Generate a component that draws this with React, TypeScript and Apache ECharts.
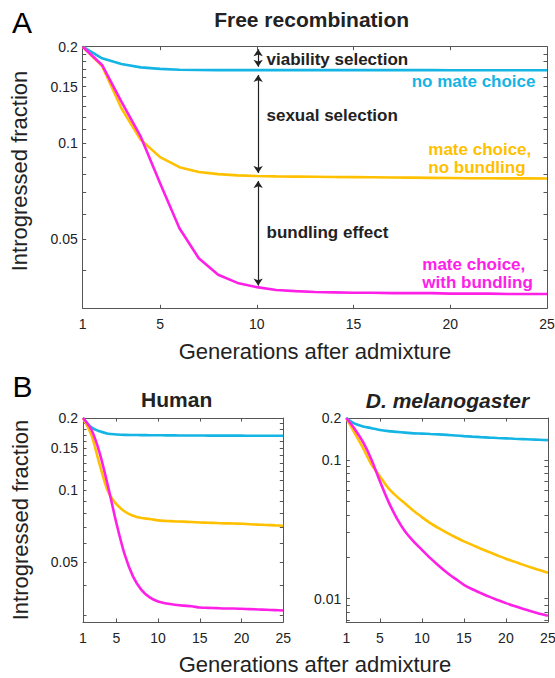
import React, { useEffect, useRef } from "react";
import * as echarts from "echarts";

// ---------- data ----------
const GENERATIONS = [1, 2, 3, 4, 5, 6, 7, 8, 9, 10, 11, 12, 13, 14, 15, 16, 17, 18, 19, 20, 21, 22, 23, 24, 25];
const X_TICKS = [1, 5, 10, 15, 20, 25];

// Panel A: free recombination
const A_NO_CHOICE = [0.2, 0.184, 0.1766, 0.1724, 0.1705, 0.1695, 0.1692, 0.169, 0.169, 0.169, 0.169, 0.169, 0.169, 0.169, 0.169, 0.169, 0.169, 0.169, 0.169, 0.1689, 0.1689, 0.1689, 0.1688, 0.1688, 0.1688];
const A_NO_BUNDLING = [0.2, 0.174, 0.1284, 0.1023, 0.0903, 0.084, 0.0811, 0.0799, 0.0792, 0.0788, 0.0786, 0.0785, 0.0784, 0.0783, 0.0782, 0.0781, 0.078, 0.0779, 0.0778, 0.0777, 0.0776, 0.0776, 0.0775, 0.0775, 0.0774];
const A_WITH_BUNDLING = [0.2, 0.1754, 0.1347, 0.1046, 0.0748, 0.0541, 0.0436, 0.0387, 0.0365, 0.0354, 0.0347, 0.0344, 0.0342, 0.0341, 0.034, 0.034, 0.0339, 0.0339, 0.0339, 0.0338, 0.0338, 0.0338, 0.0337, 0.0337, 0.0337];

// Panel B: human
const H_NO_CHOICE = [0.2, 0.183, 0.176, 0.172, 0.1708, 0.17, 0.1698, 0.1697, 0.1695, 0.1694, 0.1693, 0.1692, 0.1691, 0.169, 0.169, 0.1689, 0.1689, 0.1688, 0.1688, 0.1688, 0.1687, 0.1687, 0.1687, 0.1686, 0.1686];
const H_NO_BUNDLING = [0.2, 0.17, 0.1276, 0.0986, 0.0873, 0.0814, 0.0781, 0.0764, 0.0757, 0.0747, 0.0743, 0.074, 0.0738, 0.0735, 0.0732, 0.073, 0.0728, 0.0726, 0.0725, 0.0723, 0.072, 0.0717, 0.0715, 0.0712, 0.0709];
const H_WITH_BUNDLING = [0.2, 0.179, 0.1428, 0.1036, 0.0728, 0.0537, 0.0435, 0.0383, 0.0356, 0.0342, 0.0336, 0.0332, 0.0329, 0.0327, 0.0323, 0.0322, 0.0321, 0.032, 0.032, 0.0319, 0.0318, 0.0317, 0.0316, 0.0315, 0.0314];

// Panel B: D. melanogaster
const D_NO_CHOICE = [0.2, 0.182, 0.174, 0.169, 0.164, 0.161, 0.159, 0.157, 0.155, 0.1544, 0.1534, 0.1524, 0.1512, 0.1497, 0.1482, 0.1469, 0.1457, 0.1446, 0.1436, 0.1427, 0.1418, 0.141, 0.1402, 0.1394, 0.1386];
const D_NO_BUNDLING = [0.2, 0.156, 0.1216, 0.0923, 0.076, 0.0626, 0.0546, 0.0484, 0.043, 0.0387, 0.035, 0.0322, 0.0298, 0.0277, 0.0259, 0.0244, 0.0229, 0.0217, 0.0205, 0.0194, 0.0185, 0.0176, 0.0168, 0.0161, 0.0154];
const D_WITH_BUNDLING = [0.2, 0.167, 0.134, 0.1003, 0.07, 0.0502, 0.0381, 0.0305, 0.0259, 0.0225, 0.0196, 0.0173, 0.0154, 0.0139, 0.0126, 0.0117, 0.011, 0.01035, 0.0098, 0.0093, 0.00885, 0.00846, 0.00812, 0.00781, 0.00753];

// axis ticks
const A_Y_LABELS = [0.05, 0.1, 0.15, 0.2];
const A_Y_TICKS = [0.04, 0.05, 0.06, 0.07, 0.08, 0.09, 0.1, 0.11, 0.12, 0.13, 0.14, 0.15, 0.16, 0.17, 0.18, 0.19, 0.2];
const H_Y_LABELS = [0.05, 0.1, 0.15, 0.2];
const H_Y_TICKS = [0.03, 0.04, 0.05, 0.06, 0.07, 0.08, 0.09, 0.1, 0.11, 0.12, 0.13, 0.14, 0.15, 0.16, 0.17, 0.18, 0.19, 0.2];
const D_Y_LABELS = [0.01, 0.1, 0.2];
const D_Y_TICKS = [0.007, 0.008, 0.009, 0.01, 0.02, 0.03, 0.04, 0.05, 0.06, 0.07, 0.08, 0.09, 0.1, 0.2];

// y ranges
const A_Y_RANGE = [0.0304, 0.20005];
const H_Y_RANGE = [0.0281, 0.20005];
const D_Y_RANGE = [0.0068, 0.20005];

// annotation arrows in panel A: generation, upper value, lower value
const ARROW_X = [10.07, 10.07, 10.07];
const ARROW_TOP = [0.1963, 0.1632, 0.076];
const ARROW_BOTTOM = [0.1732, 0.0806, 0.0358];

const BLUE = "#14B4E4";
const ORANGE = "#FFC000";
const MAGENTA = "#FF20E8";
const AXIS = "#555555";
const TXT = "#222222";
const FONT = "'Liberation Sans', Arial, Helvetica, sans-serif";

const fmt = (v: number) => String(Number(Number(v).toPrecision(4)));

function xAxes(grid: number) {
  const base = {
    gridIndex: grid,
    type: "value",
    min: 1,
    max: 25,
    splitLine: { show: false },
    axisLine: { show: true, lineStyle: { color: AXIS, width: 1 } },
    axisTick: { show: true, inside: true, length: 3.5, customValues: X_TICKS, lineStyle: { color: AXIS } },
  };
  return [
    {
      ...base,
      position: "bottom",
      axisLabel: { show: true, customValues: X_TICKS, margin: 9, fontSize: 14, color: TXT, fontFamily: FONT },
    },
    { ...base, position: "top", axisLabel: { show: false } },
  ];
}

function yAxes(grid: number, range: number[], labels: number[], ticks: number[]) {
  const base = {
    gridIndex: grid,
    type: "log",
    logBase: 10,
    min: range[0],
    max: range[1],
    splitLine: { show: false },
    minorTick: { show: false },
    axisLine: { show: true, lineStyle: { color: AXIS, width: 1 } },
    axisTick: { show: true, inside: true, length: 3.5, customValues: ticks, lineStyle: { color: AXIS } },
  };
  return [
    {
      ...base,
      position: "left",
      axisLabel: { show: true, customValues: labels, margin: 5, fontSize: 14, color: TXT, fontFamily: FONT, formatter: fmt },
    },
    { ...base, position: "right", axisLabel: { show: false } },
  ];
}

function line(name: string, values: number[], color: string, xi: number, yi: number, smooth: number | boolean, extra: any = {}) {
  return {
    name,
    type: "line",
    xAxisIndex: xi,
    yAxisIndex: yi,
    data: GENERATIONS.map((g, i) => [g, values[i]]),
    showSymbol: false,
    symbol: "none",
    smooth,
    lineStyle: { color, width: 2.6 },
    itemStyle: { color },
    z: 3,
    ...extra,
  };
}

function txt(text: string, x: number, y: number, opts: any = {}) {
  const { rotation, ...style } = opts;
  return {
    type: "text",
    x,
    y,
    rotation: rotation || 0,
    silent: true,
    style: {
      text,
      fill: TXT,
      fontFamily: FONT,
      fontSize: 17,
      align: "left",
      verticalAlign: "middle",
      ...style,
    },
  };
}

export default function App() {
  const ref = useRef<HTMLDivElement>(null);

  useEffect(() => {
    if (!ref.current) return;
    const chart = echarts.init(ref.current, undefined, { renderer: "svg" });

    const arrowData = ARROW_X.map((x, i) => [
      { coord: [x, ARROW_TOP[i]] },
      { coord: [x, ARROW_BOTTOM[i]] },
    ]);

    const option: any = {
      animation: false,
      backgroundColor: "#ffffff",
      textStyle: { fontFamily: FONT },
      grid: [
        { left: 82.7, top: 46.7, width: 464.3, height: 261.6, outerBoundsMode: "none", containLabel: false },
        { left: 83, top: 418, width: 200.3, height: 204, outerBoundsMode: "none", containLabel: false },
        { left: 346.3, top: 418, width: 201.6, height: 204, outerBoundsMode: "none", containLabel: false },
      ],
      xAxis: [...xAxes(0), ...xAxes(1), ...xAxes(2)],
      yAxis: [
        ...yAxes(0, A_Y_RANGE, A_Y_LABELS, A_Y_TICKS),
        ...yAxes(1, H_Y_RANGE, H_Y_LABELS, H_Y_TICKS),
        ...yAxes(2, D_Y_RANGE, D_Y_LABELS, D_Y_TICKS),
      ],
      series: [
        line("no mate choice", A_NO_CHOICE, BLUE, 0, 0, false, {
          markLine: {
            silent: true,
            symbol: ["arrow", "arrow"],
            symbolSize: 7,
            label: { show: false },
            lineStyle: { color: "#222222", width: 1.2, type: "solid" },
            data: arrowData,
          },
        }),
        line("mate choice, no bundling", A_NO_BUNDLING, ORANGE, 0, 0, false),
        line("mate choice, with bundling", A_WITH_BUNDLING, MAGENTA, 0, 0, false),
        line("Human no mate choice", H_NO_CHOICE, BLUE, 2, 2, 0.3),
        line("Human no bundling", H_NO_BUNDLING, ORANGE, 2, 2, 0.3),
        line("Human with bundling", H_WITH_BUNDLING, MAGENTA, 2, 2, 0.3),
        line("D no mate choice", D_NO_CHOICE, BLUE, 4, 4, 0.3),
        line("D no bundling", D_NO_BUNDLING, ORANGE, 4, 4, 0.3),
        line("D with bundling", D_WITH_BUNDLING, MAGENTA, 4, 4, 0.3),
      ],
      graphic: [
        txt("A", 12, 22.5, { fontSize: 30, fill: "#000000" }),
        txt("Free recombination", 311.6, 19.5, { fontSize: 21, fontWeight: "bold", align: "center" }),
        txt("viability selection", 266.5, 59.3, { fontWeight: "bold" }),
        txt("sexual selection", 266.5, 115.3, { fontWeight: "bold" }),
        txt("bundling effect", 266.5, 232.7, { fontWeight: "bold" }),
        txt("no mate choice", 535.5, 81, { fontWeight: "bold", fill: BLUE, align: "right" }),
        txt("mate choice,\nno bundling", 428.3, 158.4, { fontWeight: "bold", fill: ORANGE, lineHeight: 18 }),
        txt("mate choice,\nwith bundling", 422.3, 273.4, { fontWeight: "bold", fill: MAGENTA, lineHeight: 18 }),
        txt("Introgressed fraction", 19.5, 171, { fontSize: 22, align: "center", rotation: Math.PI / 2 }),
        txt("Generations after admixture", 315, 351, { fontSize: 22, align: "center" }),
        txt("B", 12.5, 386.7, { fontSize: 30, fill: "#000000" }),
        txt("Human", 176.7, 399, { fontSize: 21, fontWeight: "bold", align: "center" }),
        txt("D. melanogaster", 447.5, 400, { fontSize: 21, fontWeight: "bold", fontStyle: "italic", align: "center" }),
        txt("Introgressed fraction", 20, 520, { fontSize: 22, align: "center", rotation: Math.PI / 2 }),
        txt("Generations after admixture", 315, 664, { fontSize: 22, align: "center" }),
      ],
    };

    chart.setOption(option);
    return () => chart.dispose();
  }, []);

  return (
    <div
      ref={ref}
      style={{ position: "fixed", left: 0, top: 0, width: 555, height: 678, background: "#fff" }}
    />
  );
}
